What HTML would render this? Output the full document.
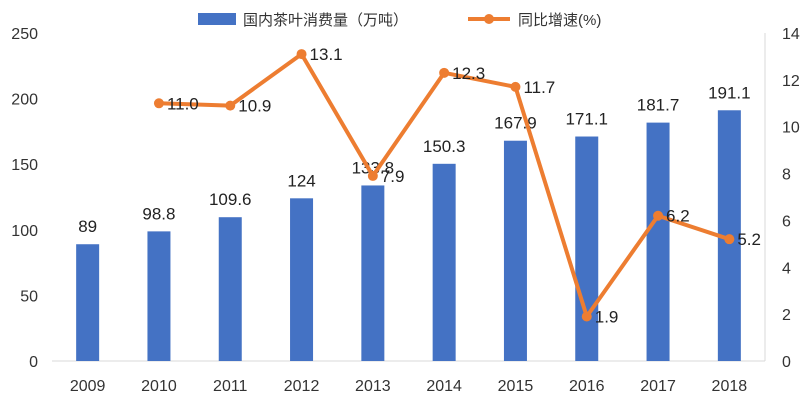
<!DOCTYPE html>
<html><head><meta charset="utf-8">
<style>
html,body{margin:0;padding:0;background:#fff;}
svg{display:block;font-family:"Liberation Sans","Noto Sans CJK SC",sans-serif;}
</style></head>
<body>
<svg id="chart" width="805" height="415" viewBox="0 0 805 415" xmlns="http://www.w3.org/2000/svg">
<g>
  <rect x="198" y="13" width="38" height="12" fill="#4472C4"/>
  <text x="243" y="25" font-size="15" fill="#333">国内茶叶消费量（万吨）</text>
  <line x1="468" y1="19" x2="510" y2="19" stroke="#ED7D31" stroke-width="4"/>
  <circle cx="489" cy="19" r="5" fill="#ED7D31"/>
  <text x="518" y="25" font-size="15" fill="#333">同比增速(%)</text>
</g>
<g id="axes"></g>
<g id="bars"></g>
<g id="line"></g>
</svg>
<script>
const categories=["2009","2010","2011","2012","2013","2014","2015","2016","2017","2018"];
const consumption=[89,98.8,109.6,124,133.8,150.3,167.9,171.1,181.7,191.1];
const growth=[null,11.0,10.9,13.1,7.9,12.3,11.7,1.9,6.2,5.2];
const leftTicks=[0,50,100,150,200,250];
const rightTicks=[0,2,4,6,8,10,12,14];

const NS="http://www.w3.org/2000/svg";
const x0=52,x1=765,yBase=361,yTop=33;
const step=(x1-x0)/categories.length;
const xPos=i=>x0+step*(i+0.5);
const yL=v=>yBase-(v/250)*(yBase-yTop);
const yR=v=>yBase-(v/14)*(yBase-yTop);
function mk(tag,attrs,parent){const e=document.createElementNS(NS,tag);for(const k in attrs)e.setAttribute(k,attrs[k]);parent.appendChild(e);return e;}
const axes=document.getElementById('axes'),bars=document.getElementById('bars'),line=document.getElementById('line');

const base=mk('line',{x1:x0,x2:x1,y1:yBase,y2:yBase,stroke:'#d9d9d9','stroke-width':1},axes);


const rax=mk('line',{x1:x1,x2:x1,y1:yTop,y2:yBase,stroke:'#d9d9d9','stroke-width':1},axes);



leftTicks.forEach(v=>{
  const t=mk('text',{x:38,y:yL(v)+6,'text-anchor':'end','font-size':16,fill:'#333'},axes);
  t.textContent=v;
  
  
});
rightTicks.forEach(v=>{
  const t=mk('text',{x:782,y:yR(v)+6,'text-anchor':'start','font-size':16,fill:'#333'},axes);
  t.textContent=v;
  
  
});
categories.forEach((c,i)=>{
  const t=mk('text',{x:xPos(i),y:391,'text-anchor':'middle','font-size':16,fill:'#333'},axes);
  t.textContent=c;
  
  
});

const bw=23;
consumption.forEach((v,i)=>{
  const r=mk('rect',{x:xPos(i)-bw/2,y:yL(v),width:bw,height:yBase-yL(v),fill:'#4472C4'},bars);
  
  
  const t=mk('text',{x:xPos(i),y:yL(v)-12,'text-anchor':'middle','font-size':17,fill:'#222'},bars);
  t.textContent=v;
  
  
});

const pts=[];
growth.forEach((v,i)=>{if(v!==null)pts.push([xPos(i),yR(v),v,i]);});
const pl=mk('polyline',{points:pts.map(p=>p[0]+','+p[1]).join(' '),fill:'none',stroke:'#ED7D31','stroke-width':4,'stroke-linejoin':'round'},line);


pts.forEach(p=>{
  const c=mk('circle',{cx:p[0],cy:p[1],r:5,fill:'#ED7D31'},line);
  
  
});
pts.forEach(p=>{
  const t=mk('text',{x:p[0]+8,y:p[1]+6,'text-anchor':'start','font-size':17,fill:'#222'},line);
  t.textContent=p[2].toFixed(1);
  
  
});
</script>
</body></html>
